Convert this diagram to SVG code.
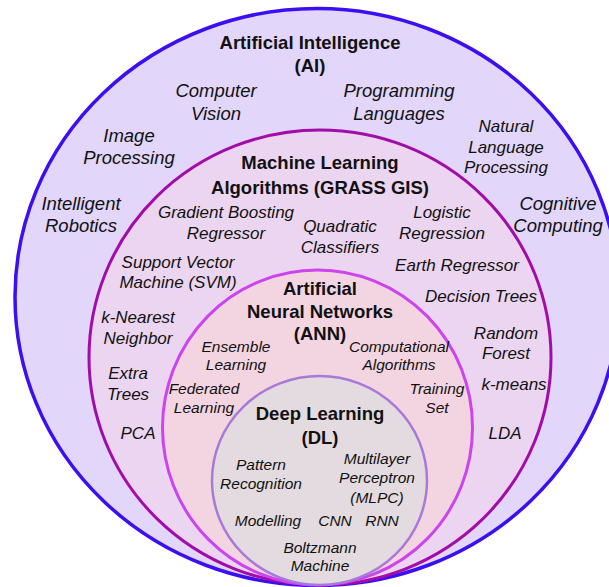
<svg xmlns="http://www.w3.org/2000/svg" width="609" height="587" viewBox="0 0 609 587">
<style>
text{font-family:"Liberation Sans",Arial,sans-serif;fill:#111;text-anchor:middle}
.t{font-weight:bold;font-size:18.5px}
.a{font-style:italic;font-size:18.5px}
.m{font-style:italic;font-size:17px}
.s{font-style:italic;font-size:15.5px}
.ai{fill:#e2d6fb;stroke:#3c0ef2;stroke-width:3.5}
.ml{fill:#ecd5f0;stroke:#a20ca8;stroke-width:3}
.ann{fill:#f3d5e2;stroke:#cc44ee;stroke-width:3}
.dl{fill:#e3dbdf;stroke:#a77ad8;stroke-width:2.5}
</style>
<rect width="609" height="587" fill="#ffffff"/>
<g id="ai">
<ellipse class="ai" cx="317" cy="297" rx="302" ry="288.5"/>
<text class="t" x="310" y="48.5">Artificial Intelligence</text>
<text class="t" x="310" y="71.5">(AI)</text>
<text class="a" x="216" y="96.5">Computer</text>
<text class="a" x="216" y="119.5">Vision</text>
<text class="a" x="399" y="96.5">Programming</text>
<text class="a" x="399" y="119.5">Languages</text>
<text class="a" x="129" y="141.5">Image</text>
<text class="a" x="129" y="163.5">Processing</text>
<text class="m" x="506" y="132">Natural</text>
<text class="m" x="506" y="153">Language</text>
<text class="m" x="506" y="173">Processing</text>
<text class="a" x="81" y="209.5">Intelligent</text>
<text class="a" x="81" y="231.5">Robotics</text>
<text class="a" x="558" y="209.5">Cognitive</text>
<text class="a" x="558" y="231.5">Computing</text>
</g>
<g id="ml">
<ellipse class="ml" cx="320" cy="357.5" rx="231" ry="227.5"/>
<text class="t" x="320" y="168.5">Machine Learning</text>
<text class="t" x="320" y="193.5">Algorithms (GRASS GIS)</text>
<text class="m" x="226" y="218">Gradient Boosting</text>
<text class="m" x="226" y="239">Regressor</text>
<text class="m" x="340" y="232">Quadratic</text>
<text class="m" x="340" y="253">Classifiers</text>
<text class="m" x="442" y="218">Logistic</text>
<text class="m" x="442" y="239">Regression</text>
<text class="m" x="178" y="268">Support Vector</text>
<text class="m" x="178" y="288">Machine (SVM)</text>
<text class="m" x="457" y="271">Earth Regressor</text>
<text class="m" x="481" y="302">Decision Trees</text>
<text class="m" x="138" y="323">k-Nearest</text>
<text class="m" x="138" y="344">Neighbor</text>
<text class="m" x="506" y="339">Random</text>
<text class="m" x="506" y="359">Forest</text>
<text class="m" x="128" y="379">Extra</text>
<text class="m" x="128" y="400">Trees</text>
<text class="m" x="514" y="390">k-means</text>
<text class="m" x="138" y="439">PCA</text>
<text class="m" x="505" y="439">LDA</text>
</g>
<g id="ann">
<ellipse class="ann" cx="317.5" cy="427.5" rx="155" ry="157.5"/>
<text class="t" x="320" y="294.5">Artificial</text>
<text class="t" x="320" y="317.5">Neural Networks</text>
<text class="t" x="320" y="339.5">(ANN)</text>
<text class="s" x="236" y="351.5">Ensemble</text>
<text class="s" x="236" y="369.5">Learning</text>
<text class="s" x="399" y="351.5">Computational</text>
<text class="s" x="399" y="369.5">Algorithms</text>
<text class="s" x="204" y="393.5">Federated</text>
<text class="s" x="204" y="412.5">Learning</text>
<text class="s" x="437" y="393.5">Training</text>
<text class="s" x="437" y="412.5">Set</text>
</g>
<g id="dl">
<ellipse class="dl" cx="319.5" cy="480.5" rx="107.5" ry="104.5"/>
<text class="t" x="320" y="419.5">Deep Learning</text>
<text class="t" x="320" y="443.5">(DL)</text>
<text class="s" x="261" y="469.5">Pattern</text>
<text class="s" x="261" y="488.5">Recognition</text>
<text class="s" x="377" y="463.5">Multilayer</text>
<text class="s" x="377" y="482.5">Perceptron</text>
<text class="s" x="377" y="502.5">(MLPC)</text>
<text class="s" x="268" y="525.5">Modelling</text>
<text class="s" x="335" y="525.5">CNN</text>
<text class="s" x="382" y="525.5">RNN</text>
<text class="s" x="320" y="552.5">Boltzmann</text>
<text class="s" x="320" y="570.5">Machine</text>
</g>
<g id="connectors"/>
</svg>
